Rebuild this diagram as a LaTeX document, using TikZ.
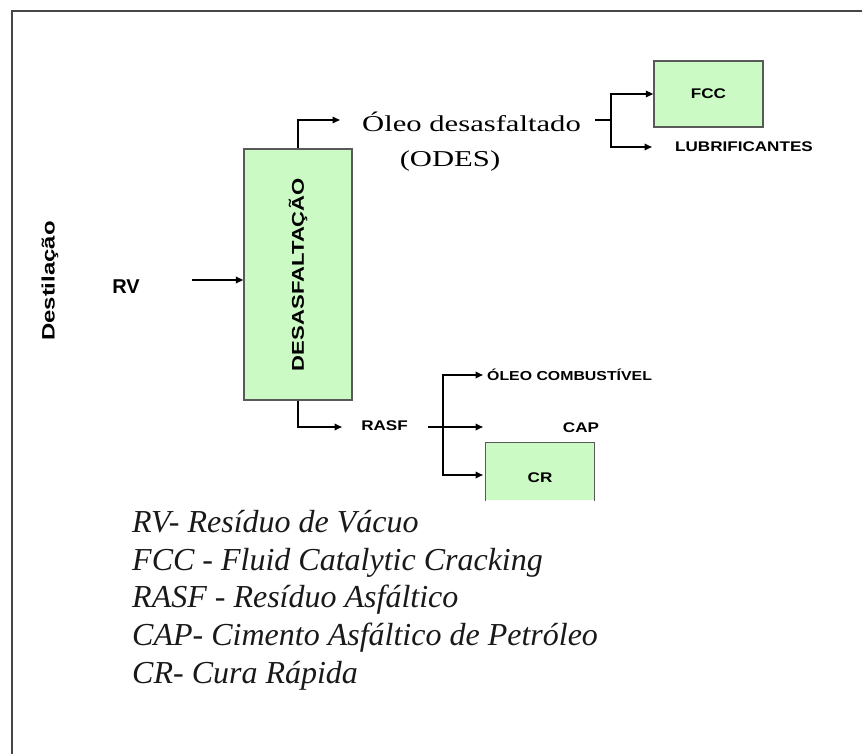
\documentclass[tikz,border=0pt]{standalone}
\usepackage{fontspec}
\setmainfont{Liberation Serif}
\newfontfamily\plainsans{Liberation Sans}
\newfontfamily\labfont{Liberation Sans}[FakeStretch=1.22]
\newfontfamily\unitfont{Liberation Sans}[FakeStretch=1.3]
\newfontfamily\distfont{Liberation Sans}[FakeStretch=1.33]
\newfontfamily\flowfont{Liberation Serif}[FakeStretch=1.35]
\usetikzlibrary{arrows.meta,positioning}
\definecolor{unitgreen}{RGB}{204,250,196}
\definecolor{framegray}{RGB}{70,70,70}

\begin{document}
\begin{tikzpicture}[x=1pt,y=-1pt,
  unit/.style={rectangle,draw=black!65,line width=1.4pt,fill=unitgreen,inner sep=0pt},
  pipe/.style={line width=1.8pt},
  flow/.style={pipe,-{Triangle[length=7.5pt,width=6.5pt]}},
  lab/.style={font=\labfont\bfseries\fontsize{14}{16}\selectfont,inner sep=0pt},
  big/.style={font=\flowfont\fontsize{22.7}{26}\selectfont,inner sep=0pt}]
\useasboundingbox (0,0) rectangle (862,754);
\draw[framegray,line width=2.5pt] (880,11) -- (12,11) -- (12,770);
\node[unit,minimum width=108pt,minimum height=251pt,
  label={[rotate=90,font=\unitfont\bfseries\fontsize{17}{19}\selectfont]center:DESASFALTAÇÃO}]
  (desasf) at (298,274.5) {};
\node[unit,lab,minimum width=109pt,minimum height=66pt] (fcc) at (708.5,94) {FCC};
\node[unit,draw=none,minimum width=108pt,minimum height=57pt,
  label={[lab,yshift=-6pt]center:CR}] (cr) at (540,471.5) {};
\draw[black!65,line width=1.4pt] (cr.south west) |- (cr.north east) -- (cr.south east);
\node[rotate=90,font=\distfont\bfseries\fontsize{18}{20}\selectfont] (dist) at (50,281) {Destilação};
\node[inner sep=0pt,font=\plainsans\bfseries\fontsize{20}{22}\selectfont,anchor=base] (rv) at (126,293) {RV};
\coordinate (rvout) at (192,280);
\draw[flow] (rvout) -- (rvout -| desasf.west);
\coordinate (odesin) at (340,120);
\draw[flow] (desasf.north) |- (odesin);
\node[big,anchor=base west] (oleo) at (362,132) {Óleo desasfaltado};
\node[big,anchor=base] (odes) at (450,167) {(ODES)};
\coordinate (oleotail) at (595,120);
\coordinate (oleosplit) at (611,120);
\coordinate (lubin) at (652,147);
\draw[pipe] (oleotail) -- (oleosplit);
\draw[flow] (oleosplit) |- (fcc.west);
\draw[flow] (oleosplit) |- (lubin);
\node[lab,anchor=base west] (lubri) at (675,152) {LUBRIFICANTES};
\coordinate (rasfin) at (342,427);
\draw[flow] (desasf.south) |- (rasfin);
\node[lab,anchor=base] (rasf) at (384.5,430) {RASF};
\coordinate (rasftail) at (428,427);
\coordinate (rasfsplit) at (443,427);
\coordinate (ocin) at (483,375);
\coordinate (capin) at (483,427);
\coordinate (crin) at (483,475);
\draw[pipe] (rasftail) -- (rasfsplit);
\draw[flow] (rasfsplit) |- (ocin);
\draw[flow] (rasfsplit) -- (capin);
\draw[flow] (rasfsplit) |- (crin);
\node[lab,font=\labfont\bfseries\fontsize{13}{15}\selectfont,anchor=base west] (oc) at (487,380) {ÓLEO COMBUSTÍVEL};
\node[lab,anchor=base] (cap) at (581,432) {CAP};
\node[anchor=north west,align=left,inner sep=0pt,text=black!90,
  font=\itshape\fontsize{32}{37.7}\selectfont] (legend) at (132,510)
  {RV- Resíduo de Vácuo\\FCC - Fluid Catalytic Cracking\\RASF - Resíduo Asfáltico\\
   CAP- Cimento Asfáltico de Petróleo\\CR- Cura Rápida};
\end{tikzpicture}
\end{document}
